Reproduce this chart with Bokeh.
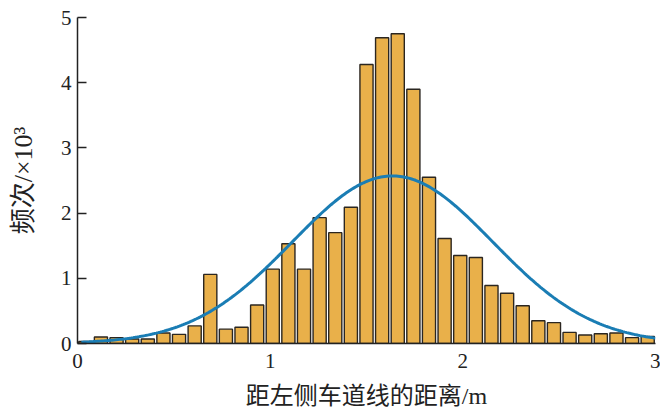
import numpy as np
from bokeh.plotting import figure
from bokeh.models import Range1d, FixedTicker
from bokeh.embed import file_html
from bokeh.resources import INLINE

# histogram: 37 bins over [0, 3] m, counts in units of 10^3
bin_lo = 0.0
bin_hi = 3.0
n_bins = 37
counts = [0.03, 0.10, 0.09, 0.07, 0.07, 0.16, 0.14, 0.27, 1.06, 0.22,
          0.25, 0.59, 1.14, 1.53, 1.14, 1.93, 1.70, 2.09, 4.28, 4.69,
          4.75, 3.90, 2.55, 1.61, 1.35, 1.32, 0.89, 0.77, 0.58, 0.35,
          0.32, 0.17, 0.13, 0.15, 0.16, 0.09, 0.11]

# fitted normal curve parameters
fit_mu = 1.635
fit_sigma = 0.52
fit_peak = 2.57

x_ticks = [0, 1, 2, 3]
y_ticks = [0, 1, 2, 3, 4, 5]

edges = np.linspace(bin_lo, bin_hi, n_bins + 1)
centers = (edges[:-1] + edges[1:]) / 2
bw = edges[1] - edges[0]

p = figure(width=660, height=420, output_backend="svg", toolbar_location=None,
           x_range=Range1d(0, 3), y_range=Range1d(0, 5),
           min_border_left=77, min_border_right=5, min_border_top=17, min_border_bottom=77)
p.outline_line_color = None
p.grid.visible = False
p.background_fill_color = "white"

p.vbar(x=centers, width=bw * 0.84, top=counts, bottom=0,
       fill_color="#E9B04A", line_color="#2b2620", line_width=1.4)

xs = np.linspace(0.02, 3.0, 300)
ys = fit_peak * np.exp(-(xs - fit_mu) ** 2 / (2 * fit_sigma ** 2))
p.line(xs, ys, line_color="#1A7DB4", line_width=3)

serif = "Liberation Serif, Noto Sans CJK SC"
for ax in (p.xaxis[0], p.yaxis[0]):
    ax.major_label_text_font = "Liberation Serif"
    ax.major_label_text_font_size = "21px"
    ax.major_label_text_color = "#222222"
    ax.axis_label_text_font = serif
    ax.axis_label_text_font_style = "normal"
    ax.axis_label_text_color = "#222222"
    ax.minor_tick_line_color = None
    ax.axis_line_color = "#222222"
    ax.axis_line_width = 1.5

p.xaxis[0].ticker = FixedTicker(ticks=x_ticks)
p.xaxis[0].major_tick_line_color = None
p.xaxis[0].major_tick_in = 0
p.xaxis[0].major_tick_out = 0
p.xaxis[0].major_label_standoff = 10
p.xaxis[0].axis_label = "距左侧车道线的距离/m"
p.xaxis[0].axis_label_text_font_size = "24px"
p.xaxis[0].axis_label_standoff = 12

p.yaxis[0].ticker = FixedTicker(ticks=y_ticks)
p.yaxis[0].major_tick_in = 9
p.yaxis[0].major_tick_out = 0
p.yaxis[0].major_tick_line_width = 1.5
p.yaxis[0].major_tick_line_color = "#222222"
p.yaxis[0].major_label_standoff = 6
p.yaxis[0].axis_label = "频次/×10³"
p.yaxis[0].axis_label_text_font_size = "26px"
p.yaxis[0].axis_label_standoff = 20

open("out.html", "w").write(file_html(p, INLINE))
